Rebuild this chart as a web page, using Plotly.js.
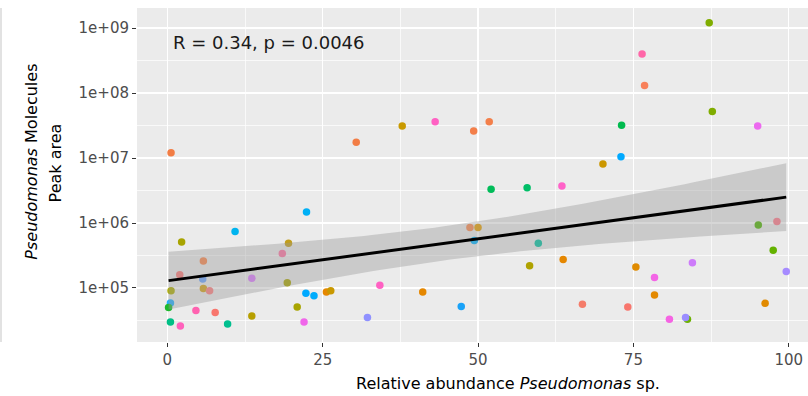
<!DOCTYPE html>
<html>
<head>
<meta charset="utf-8">
<script src="https://cdn.plot.ly/plotly-3.0.1.min.js"></script>
<style>html,body{margin:0;padding:0;background:#fff;}#chart{width:808px;height:396px;}</style>
</head>
<body>
<div id="chart"></div>
<script>
// Relative abundance of Pseudomonas sp. (%)
const relAbundance = [
  0.6, 30.4, 37.8, 43.1, 49.3, 51.8, 87.2, 76.4, 76.8, 87.7,
  73.1, 95.0, 73.0, 70.1, 52.1, 57.9, 63.5, 48.7, 50.0, 49.4,
  59.7, 58.3, 63.7, 34.2, 41.1, 47.3, 32.2, 22.4, 10.9, 2.3,
  19.5, 18.5, 5.8, 2.0, 5.7, 13.6, 19.3, 0.6, 5.8, 6.8,
  22.3, 23.6, 25.6, 26.3, 0.5, 0.2, 20.9, 4.6, 7.7, 13.6,
  0.5, 9.7, 2.1, 22.0, 95.1, 98.1, 97.5, 75.4, 84.5, 99.6,
  78.4, 78.4, 66.8, 74.1, 96.2, 80.8, 83.7, 83.4
];
// Pseudomonas molecules peak area
const peakArea = [
  1.2e7, 1.74e7, 3.1e7, 3.6e7, 2.6e7, 3.6e7, 1.2e9, 4.0e8, 1.3e8, 5.2e7,
  3.2e7, 3.1e7, 1.05e7, 8.1e6, 3.3e6, 3.5e6, 3.7e6, 8.5e5, 8.5e5, 5.4e5,
  4.9e5, 2.2e5, 2.75e5, 1.1e5, 8.7e4, 5.2e4, 3.5e4, 1.48e6, 7.4e5, 5.1e5,
  4.9e5, 3.4e5, 2.6e5, 1.6e5, 1.38e5, 1.41e5, 1.2e5, 9.1e4, 9.8e4, 9.1e4,
  8.3e4, 7.6e4, 8.7e4, 9.1e4, 5.9e4, 5.0e4, 5.1e4, 4.5e4, 4.2e4, 3.7e4,
  3.0e4, 2.8e4, 2.6e4, 3.0e4, 9.3e5, 1.05e6, 3.8e5, 2.1e5, 2.45e5, 1.8e5,
  1.45e5, 7.8e4, 5.6e4, 5.1e4, 5.8e4, 3.3e4, 3.3e4, 3.5e4
];
const sampleColors = [
  '#F27D45','#F27D45','#C99A00','#FF61C3','#F37F4A','#F37F4A','#80AD00','#FF66A8','#F8805A','#80AD00',
  '#00BA4E','#EC69EF','#00A9FF','#CB9700','#00BC59','#00BE67','#FF62C8','#FB8A51','#E69E00','#00B4FF',
  '#00C1A0','#AFA200','#E58700','#FF61C3','#E58700','#19A2F8','#8F91FF','#00B0F6','#00B4EF','#A8A400',
  '#C29E1A','#FF76A3','#FB874D','#FA7B78','#6AA3FF','#DD7CFF','#A9A500','#ADAD00','#D6A318','#FF8080',
  '#00A9FF','#00ACFC','#E58700','#C99800','#1FB0FF','#1DB82C','#A8A400','#FF62B0','#F8766D','#B79F00',
  '#00BF85','#00BF8F','#FF62BC','#F066EA','#4EB300','#FF7A8A','#64B200','#E08B00','#CD7BFA','#A68BFF',
  '#F365E6','#E38900','#F47C6A','#F8766D','#E18A00','#F564E3','#6BB100','#9B8DFF'
];
const yTickVals = [5, 6, 7, 8, 9];
const yTickText = ['1e+05', '1e+06', '1e+07', '1e+08', '1e+09'];
const xTickVals = [0, 25, 50, 75, 100];
const statLabel = 'R = 0.34, p = 0.0046';
const xTitle = 'Relative abundance <i>Pseudomonas</i> sp.';
const yTitleLines = ['<i>Pseudomonas</i> Molecules', 'Peak area'];

// log10 scale of y (as in scale_y_log10)
const logY = peakArea.map(v => Math.log10(v));

// linear model fit (geom_smooth method = "lm") with 95% confidence band
const n = relAbundance.length;
const xbar = relAbundance.reduce((a, b) => a + b, 0) / n;
const ybar = logY.reduce((a, b) => a + b, 0) / n;
let sxx = 0, sxy = 0;
for (let i = 0; i < n; i++) {
  sxx += (relAbundance[i] - xbar) ** 2;
  sxy += (relAbundance[i] - xbar) * (logY[i] - ybar);
}
const slope = sxy / sxx;
const intercept = ybar - slope * xbar;
let rss = 0;
for (let i = 0; i < n; i++) rss += (logY[i] - intercept - slope * relAbundance[i]) ** 2;
const s = Math.sqrt(rss / (n - 2));
const tq = 1.9966;
const xmin = Math.min(...relAbundance), xmax = Math.max(...relAbundance);
const gx = [], gfit = [], glo = [], ghi = [];
for (let k = 0; k < 80; k++) {
  const x = xmin + (xmax - xmin) * k / 79;
  const f = intercept + slope * x;
  const se = s * Math.sqrt(1 / n + (x - xbar) ** 2 / sxx);
  gx.push(x); gfit.push(f); glo.push(f - tq * se); ghi.push(f + tq * se);
}

const traces = [
  {
    x: relAbundance, y: logY, type: 'scatter', mode: 'markers',
    marker: {color: sampleColors, size: 7.5, line: {width: 0}},
    hoverinfo: 'skip', showlegend: false
  },
  {
    x: gx, y: glo, type: 'scatter', mode: 'lines',
    line: {width: 0, color: 'rgba(0,0,0,0)'}, hoverinfo: 'skip', showlegend: false
  },
  {
    x: gx, y: ghi, type: 'scatter', mode: 'lines', fill: 'tonexty',
    fillcolor: 'rgba(153,153,153,0.4)',
    line: {width: 0, color: 'rgba(0,0,0,0)'}, hoverinfo: 'skip', showlegend: false
  },
  {
    x: gx, y: gfit, type: 'scatter', mode: 'lines',
    line: {color: '#000000', width: 3}, hoverinfo: 'skip', showlegend: false
  }
];

const tickFont = {family: 'DejaVu Sans', size: 15, color: '#4D4D4D'};
const titleFont = {family: 'DejaVu Sans', size: 16, color: '#000000'};
const layout = {
  width: 808, height: 396,
  margin: {l: 137, r: 0, t: 8, b: 54, pad: 0},
  paper_bgcolor: '#FFFFFF', plot_bgcolor: '#EBEBEB',
  showlegend: false,
  xaxis: {
    range: [-4.88, 103.1], tickmode: 'array', tickvals: xTickVals,
    showgrid: true, gridcolor: '#FFFFFF', gridwidth: 1.4,
    minor: {dtick: 12.5, tick0: 12.5, showgrid: true, gridcolor: '#FFFFFF', gridwidth: 0.7},
    zeroline: false, showline: false,
    ticks: 'outside', ticklen: 4, tickwidth: 1, tickcolor: '#333333',
    tickfont: tickFont
  },
  yaxis: {
    range: [4.169, 9.308], tickmode: 'array', tickvals: yTickVals, ticktext: yTickText,
    showgrid: true, gridcolor: '#FFFFFF', gridwidth: 1.4,
    minor: {dtick: 0.5, tick0: 0, showgrid: true, gridcolor: '#FFFFFF', gridwidth: 0.7},
    zeroline: false, showline: false,
    ticks: 'outside', ticklen: 4, tickwidth: 1, tickcolor: '#333333',
    tickfont: tickFont
  },
  annotations: [
    {
      xref: 'x', yref: 'y', x: 0.6, y: 8.77, xanchor: 'left', yanchor: 'middle',
      text: statLabel, showarrow: false,
      font: {family: 'DejaVu Sans', size: 18, color: '#1A1A1A'}
    },
    {
      xref: 'paper', yref: 'paper', x: 0.553, y: -0.1228, xanchor: 'center', yanchor: 'middle',
      text: xTitle, showarrow: false, font: titleFont
    },
    {
      xref: 'paper', yref: 'paper', x: -0.157, y: 0.539, xanchor: 'center', yanchor: 'middle',
      text: yTitleLines[0], showarrow: false, textangle: -90, font: titleFont
    },
    {
      xref: 'paper', yref: 'paper', x: -0.122, y: 0.535, xanchor: 'center', yanchor: 'middle',
      text: yTitleLines[1], showarrow: false, textangle: -90, font: titleFont
    }
  ],
  shapes: [{
    type: 'line', xref: 'paper', yref: 'paper',
    x0: -136 / 671, x1: -136 / 671, y0: 0, y1: 1,
    line: {color: '#D9D9D9', width: 1.5}
  }]
};

Plotly.newPlot('chart', traces, layout, {staticPlot: true, displayModeBar: false});
</script>
</body>
</html>
